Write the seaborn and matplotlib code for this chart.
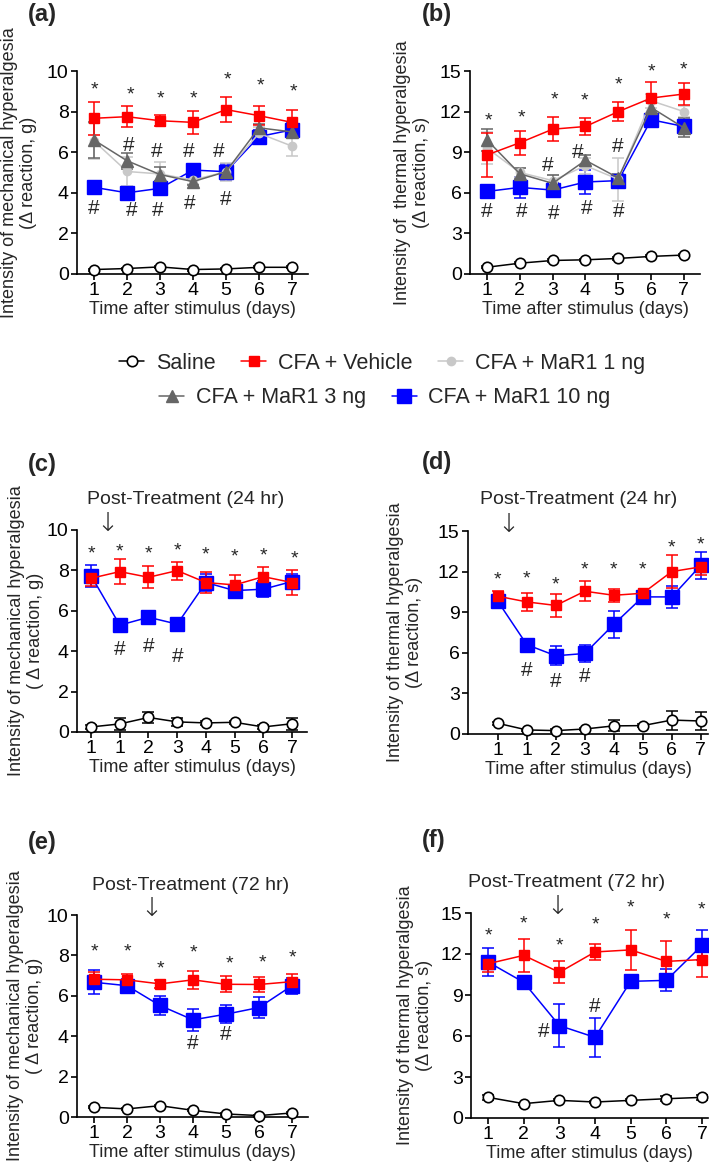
import numpy as np
import pandas as pd
import matplotlib
matplotlib.use("Agg")
import matplotlib.pyplot as plt
import seaborn as sns
from matplotlib.lines import Line2D

# ---------------- data ----------------
groups = ["Saline", "CFA + Vehicle", "CFA + MaR1 1 ng", "CFA + MaR1 3 ng", "CFA + MaR1 10 ng"]
days = [1, 2, 3, 4, 5, 6, 7]
post_pos = [0, 1, 2, 3, 4, 5, 6, 7]
post_labels = ["1", "1", "2", "3", "4", "5", "6", "7"]

# (a) mechanical
a_saline = [0.22, 0.27, 0.35, 0.22, 0.25, 0.33, 0.33]
a_saline_err = [0.05, 0.05, 0.05, 0.05, 0.05, 0.05, 0.05]
a_veh = [7.67, 7.75, 7.55, 7.47, 8.1, 7.8, 7.47]
a_veh_err = [0.82, 0.53, 0.28, 0.58, 0.6, 0.48, 0.6]
a_1ng = [6.55, 5.05, 4.93, 4.63, 5.04, 6.93, 6.3]
a_1ng_err = [0.9, 0.7, 0.6, 0.2, 0.45, 0.3, 0.5]
a_3ng = [6.6, 5.58, 4.9, 4.55, 5.04, 7.2, 7.0]
a_3ng_err = [0.9, 0.4, 0.35, 0.15, 0.3, 0.2, 0.3]
a_10ng = [4.27, 4.0, 4.22, 5.12, 5.04, 6.77, 7.1]
a_10ng_err = [0.1, 0.1, 0.35, 0.3, 0.4, 0.3, 0.35]
a_star_x = [1, 2.12, 3, 4, 5.05, 6.05, 7.05]
a_star_y = [9.06, 8.82, 8.6, 8.62, 9.56, 9.26, 8.98]
a_hashU_x = [2.05, 2.9, 3.88, 4.78]
a_hashU_y = [6.35, 6.03, 6.03, 6.03]
a_hashL_x = [1, 2.15, 2.93, 3.9, 5.0]
a_hashL_y = [3.23, 3.15, 3.15, 3.48, 3.65]

# (b) thermal
b_saline = [0.5, 0.8, 1.0, 1.05, 1.15, 1.3, 1.4]
b_saline_err = [0.08, 0.08, 0.08, 0.08, 0.08, 0.08, 0.08]
b_veh = [8.8, 9.7, 10.7, 10.9, 12.0, 13.0, 13.3]
b_veh_err = [1.6, 0.9, 0.9, 0.6, 0.7, 1.2, 0.8]
b_1ng = [9.3, 7.5, 6.9, 8.0, 7.0, 12.8, 12.0]
b_1ng_err = [1.2, 0.3, 0.4, 0.6, 1.6, 0.5, 0.4]
b_3ng = [9.9, 7.4, 6.7, 8.4, 7.1, 12.3, 10.8]
b_3ng_err = [0.8, 0.4, 0.6, 0.4, 0.3, 0.5, 0.7]
b_10ng = [6.1, 6.4, 6.2, 6.8, 6.9, 11.4, 10.9]
b_10ng_err = [0.2, 0.8, 0.5, 0.9, 0.4, 0.3, 0.5]
b_star_x = [1.05, 2.05, 3.05, 3.97, 5.0, 6.0, 7.0]
b_star_y = [11.3, 11.5, 12.85, 12.8, 14.0, 14.95, 15.1]
b_hashU_x = [2.85, 3.75, 4.97]
b_hashU_y = [8.05, 9.0, 9.4]
b_hashL_x = [1, 2.05, 3.02, 4.05, 5.02]
b_hashL_y = [4.6, 4.6, 4.5, 4.85, 4.6]

# (c) mechanical, post-treatment 24 hr
c_saline = [0.25, 0.4, 0.72, 0.5, 0.45, 0.48, 0.25, 0.41]
c_saline_err = [0.1, 0.3, 0.25, 0.2, 0.08, 0.08, 0.08, 0.3]
c_veh = [7.61, 7.94, 7.66, 7.99, 7.4, 7.28, 7.69, 7.4]
c_veh_err = [0.4, 0.6, 0.55, 0.45, 0.5, 0.5, 0.5, 0.6]
c_10ng = [7.74, 5.29, 5.68, 5.34, 7.4, 7.0, 7.07, 7.45]
c_10ng_err = [0.55, 0.1, 0.1, 0.25, 0.4, 0.2, 0.4, 0.35]
c_star_x = [0, 1, 2, 3, 4, 5, 6, 7.1]
c_star_y = [8.8, 8.93, 8.8, 8.96, 8.76, 8.68, 8.73, 8.55]
c_hash_x = [1, 2, 3]
c_hash_y = [4.1, 4.23, 3.74]

# (d) thermal, post-treatment 24 hr
d_saline = [0.79, 0.3, 0.25, 0.37, 0.6, 0.62, 1.03, 0.96]
d_saline_err = [0.1, 0.1, 0.1, 0.1, 0.4, 0.1, 0.7, 0.7]
d_veh = [10.18, 9.76, 9.5, 10.55, 10.25, 10.4, 12.0, 12.35]
d_veh_err = [0.4, 0.65, 0.85, 0.75, 0.5, 0.2, 1.2, 0.6]
d_10ng = [9.8, 6.6, 5.78, 5.95, 8.1, 10.13, 10.13, 12.46]
d_10ng_err = [0.3, 0.2, 0.7, 0.6, 1.0, 0.2, 0.8, 1.0]
d_star_x = [0, 1, 2, 3, 4, 5, 6, 7]
d_star_y = [11.36, 11.43, 11.0, 12.15, 12.1, 12.1, 13.75, 13.94]
d_hash_x = [1, 2, 3]
d_hash_y = [4.72, 3.86, 4.23]

# (e) mechanical, post-treatment 72 hr
e_saline = [0.48, 0.4, 0.56, 0.33, 0.15, 0.07, 0.2]
e_saline_err = [0.05, 0.05, 0.05, 0.05, 0.05, 0.05, 0.05]
e_veh = [6.82, 6.79, 6.59, 6.79, 6.57, 6.56, 6.7]
e_veh_err = [0.35, 0.3, 0.2, 0.45, 0.4, 0.35, 0.4]
e_10ng = [6.67, 6.5, 5.52, 4.81, 5.09, 5.42, 6.5]
e_10ng_err = [0.6, 0.35, 0.45, 0.55, 0.45, 0.5, 0.4]
e_star_x = [1, 2, 3, 4, 5.1, 6.1, 7]
e_star_y = [8.19, 8.19, 7.33, 8.14, 7.58, 7.61, 7.86]
e_hash_x = [4, 5]
e_hash_y = [3.66, 4.07]

# (f) thermal, post-treatment 72 hr
f_saline = [1.51, 1.05, 1.29, 1.17, 1.29, 1.41, 1.51]
f_saline_err = [0.2, 0.08, 0.08, 0.08, 0.08, 0.2, 0.2]
f_veh = [11.29, 11.9, 10.66, 12.15, 12.3, 11.46, 11.59]
f_veh_err = [0.6, 1.2, 0.8, 0.6, 1.45, 1.5, 1.3]
f_10ng = [11.41, 9.93, 6.76, 5.9, 10.0, 10.07, 12.63]
f_10ng_err = [1.05, 0.2, 1.55, 1.4, 0.2, 0.8, 1.1]
f_star_x = [1, 2, 3, 4, 5, 6, 7]
f_star_y = [13.3, 14.2, 12.56, 14.15, 15.4, 14.5, 15.24]
f_hash_x = [2.55, 4]
f_hash_y = [6.34, 8.17]

# ---------------- style ----------------
sns.set_theme(style="ticks")
plt.rcParams["font.family"] = ["Liberation Sans", "DejaVu Sans"]
plt.rcParams["axes.linewidth"] = 1.2
plt.rcParams["xtick.major.width"] = 1.2
plt.rcParams["ytick.major.width"] = 1.2
plt.rcParams["xtick.major.size"] = 4
plt.rcParams["ytick.major.size"] = 4
plt.rcParams["xtick.color"] = "black"
plt.rcParams["ytick.color"] = "black"
plt.rcParams["axes.edgecolor"] = "black"

style = {
    "Saline": dict(color="black", marker="o", ms=7.5, mfc="white", mec="black", mew=1.2),
    "CFA + Vehicle": dict(color="#ff0000", marker="s", ms=7.5, mfc="#ff0000", mec="#ff0000", mew=1),
    "CFA + MaR1 1 ng": dict(color="#c8c8c8", marker="o", ms=6, mfc="#c8c8c8", mec="#c8c8c8", mew=1),
    "CFA + MaR1 3 ng": dict(color="#666666", marker="^", ms=8, mfc="#666666", mec="#666666", mew=1),
    "CFA + MaR1 10 ng": dict(color="#0000ff", marker="s", ms=10, mfc="#0000ff", mec="#0000ff", mew=1),
}
draw_order = ["Saline", "CFA + MaR1 10 ng", "CFA + MaR1 1 ng", "CFA + MaR1 3 ng", "CFA + Vehicle"]

W, H = 709, 1171
fig = plt.figure(figsize=(W / 100, H / 100), dpi=100)


def px_axes(left, right, top, bottom):
    return fig.add_axes([left / W, 1 - bottom / H, (right - left) / W, (bottom - top) / H])


def draw_series(ax, x, series):
    for g in draw_order:
        if g not in series:
            continue
        y, err = series[g]
        st = style[g]
        df = pd.DataFrame({"x": x, "y": y})
        ax.errorbar(x, y, yerr=err, fmt="none", ecolor=st["color"], elinewidth=1.1,
                    capsize=4, capthick=1.1, zorder=2, clip_on=False)
        sns.lineplot(data=df, x="x", y="y", ax=ax, color=st["color"], linewidth=1.1,
                     marker=st["marker"], markersize=st["ms"], markerfacecolor=st["mfc"],
                     markeredgecolor=st["mec"], markeredgewidth=st["mew"],
                     errorbar=None, legend=False, zorder=3, clip_on=False)


def finish(ax, xlim, ylim, yticks, xt, xtl, ylabel, ylab_off_px, width_px):
    ax.set_xlim(*xlim)
    ax.set_ylim(*ylim)
    ax.set_yticks(yticks)
    ax.set_xticks(xt)
    ax.set_xticklabels(xtl)
    ax.tick_params(axis="both", labelsize=14, pad=2, direction="out")
    ax.set_xlabel("Time after stimulus (days)", fontsize=13, labelpad=1)
    ax.set_ylabel(ylabel, fontsize=13, linespacing=1.15)
    ax.yaxis.set_label_coords(-ylab_off_px / width_px, 0.5)
    sns.despine(ax=ax)


def marks(ax, sx, sy, hx_list, hy_list):
    for x, y in zip(sx, sy):
        ax.text(x, y, "*", ha="center", va="center", fontsize=14, clip_on=False)
    for hx, hy in zip(hx_list, hy_list):
        for x, y in zip(hx, hy):
            ax.text(x, y, "#", ha="center", va="center", fontsize=15, clip_on=False)


def post_note(ax, tx, ty, ax_x, ax_y, text):
    ax.text(tx, ty, text, ha="center", va="center", fontsize=14, clip_on=False)
    ax.text(ax_x, ax_y, "\u2193", ha="center", va="center", fontsize=19,
            family=["DejaVu Sans"], fontweight="light", clip_on=False)


mech_label = "Intensity of mechanical hyperalgesia\n(\u0394 reaction, g)"
mech_label2 = "Intensity of mechanical hyperalgesia\n( \u0394 reaction, g)"
therm_label_b = "Intensity of  thermal hyperalgesia\n(\u0394 reaction, s)"
therm_label = "Intensity of thermal hyperalgesia\n(\u0394 reaction, s)"

# (a)
ax_a = px_axes(77, 308, 71, 274)
draw_series(ax_a, days, {"Saline": (a_saline, a_saline_err), "CFA + Vehicle": (a_veh, a_veh_err),
                         "CFA + MaR1 1 ng": (a_1ng, a_1ng_err), "CFA + MaR1 3 ng": (a_3ng, a_3ng_err),
                         "CFA + MaR1 10 ng": (a_10ng, a_10ng_err)})
finish(ax_a, (0.485, 7.485), (0, 10), [0, 2, 4, 6, 8, 10], days, [str(d) for d in days],
       mech_label, 40, 231)
marks(ax_a, a_star_x, a_star_y, [a_hashU_x, a_hashL_x], [a_hashU_y, a_hashL_y])

# (b)
ax_b = px_axes(470, 700, 71, 274)
draw_series(ax_b, days, {"Saline": (b_saline, b_saline_err), "CFA + Vehicle": (b_veh, b_veh_err),
                         "CFA + MaR1 1 ng": (b_1ng, b_1ng_err), "CFA + MaR1 3 ng": (b_3ng, b_3ng_err),
                         "CFA + MaR1 10 ng": (b_10ng, b_10ng_err)})
finish(ax_b, (0.48, 7.49), (0, 15), [0, 3, 6, 9, 12, 15], days, [str(d) for d in days],
       therm_label_b, 40, 230)
marks(ax_b, b_star_x, b_star_y, [b_hashU_x, b_hashL_x], [b_hashU_y, b_hashL_y])

# (c)
ax_c = px_axes(77, 307, 530, 732)
draw_series(ax_c, post_pos, {"Saline": (c_saline, c_saline_err), "CFA + Vehicle": (c_veh, c_veh_err),
                             "CFA + MaR1 10 ng": (c_10ng, c_10ng_err)})
finish(ax_c, (-0.49, 7.52), (0, 10), [0, 2, 4, 6, 8, 10], post_pos, post_labels,
       mech_label2, 33, 230)
marks(ax_c, c_star_x, c_star_y, [c_hash_x], [c_hash_y])
post_note(ax_c, 3.28, 11.5, 0.55, 10.3, "Post-Treatment (24 hr)")

# (d)
ax_d = px_axes(468, 708, 531, 734)
draw_series(ax_d, post_pos, {"Saline": (d_saline, d_saline_err), "CFA + Vehicle": (d_veh, d_veh_err),
                             "CFA + MaR1 10 ng": (d_10ng, d_10ng_err)})
finish(ax_d, (-1.03, 7.25), (0, 15), [0, 3, 6, 9, 12, 15], post_pos, post_labels,
       therm_label, 45, 240)
marks(ax_d, d_star_x, d_star_y, [d_hash_x], [d_hash_y])
post_note(ax_d, 2.79, 17.3, 0.35, 15.5, "Post-Treatment (24 hr)")

# (e)
ax_e = px_axes(77, 308, 915, 1117)
draw_series(ax_e, days, {"Saline": (e_saline, e_saline_err), "CFA + Vehicle": (e_veh, e_veh_err),
                         "CFA + MaR1 10 ng": (e_10ng, e_10ng_err)})
finish(ax_e, (0.485, 7.485), (0, 10), [0, 2, 4, 6, 8, 10], days, [str(d) for d in days],
       mech_label2, 34, 231)
marks(ax_e, e_star_x, e_star_y, [e_hash_x], [e_hash_y])
post_note(ax_e, 3.94, 11.48, 2.75, 10.3, "Post-Treatment (72 hr)")

# (f)
ax_f = px_axes(471, 708, 913, 1118)
draw_series(ax_f, days, {"Saline": (f_saline, f_saline_err), "CFA + Vehicle": (f_veh, f_veh_err),
                         "CFA + MaR1 10 ng": (f_10ng, f_10ng_err)})
finish(ax_f, (0.52, 7.17), (0, 15), [0, 3, 6, 9, 12, 15], days, [str(d) for d in days],
       therm_label, 38, 237)
marks(ax_f, f_star_x, f_star_y, [f_hash_x], [f_hash_y])
post_note(ax_f, 3.21, 17.26, 2.95, 15.45, "Post-Treatment (72 hr)")

# panel letters
for lab, xp, yp in [("(a)", 28, 15), ("(b)", 422, 15), ("(c)", 28, 464),
                    ("(d)", 422, 462), ("(e)", 28, 843), ("(f)", 422, 841)]:
    fig.text(xp / W, 1 - yp / H, lab, ha="left", va="center", fontsize=17, fontweight="bold")

# legend
def handle(g):
    st = style[g]
    return Line2D([], [], color=st["color"], linewidth=1.1, marker=st["marker"],
                  markersize=st["ms"], markerfacecolor=st["mfc"], markeredgecolor=st["mec"],
                  markeredgewidth=st["mew"])

row1 = groups[:3]
row2 = groups[3:]
leg_kw = dict(frameon=False, fontsize=15.5, handlelength=1.15, handletextpad=0.55,
              columnspacing=1.2, borderaxespad=0, borderpad=0)
fig.legend([handle(g) for g in row1], row1, loc="center", ncol=3,
           bbox_to_anchor=(382 / W, 1 - 363 / H), **leg_kw)
fig.legend([handle(g) for g in row2], row2, loc="center", ncol=2,
           bbox_to_anchor=(385 / W, 1 - 398 / H), **leg_kw)

fig.savefig("out.png", dpi=100, facecolor="white")
